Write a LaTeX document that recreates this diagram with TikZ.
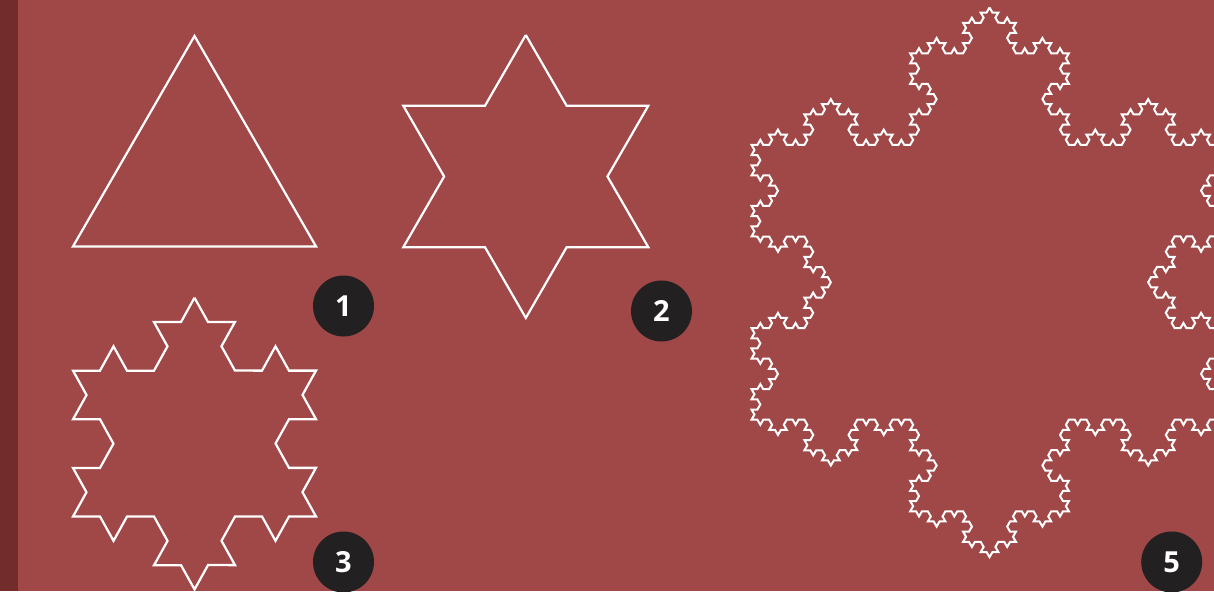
\documentclass[tikz,border=0pt]{standalone}
\usepackage{fontspec}
\setmainfont{Open Sans}
\usetikzlibrary{decorations.fractals}
\definecolor{bgc}{RGB}{160,72,72}
\definecolor{stripc}{RGB}{115,44,44}
\definecolor{badgec}{RGB}{35,32,33}
\begin{document}
\begin{tikzpicture}[x=1pt,y=1pt,
  koch/.style={draw=white, line width=2.2pt, line join=miter, decoration=Koch snowflake},
  badge/.style={circle, fill=badgec, minimum size=61pt, inner sep=0pt, text=white,
    font=\fontsize{29}{29}\selectfont\bfseries}]
\useasboundingbox (0,0) rectangle (1214,-591);
\clip (0,0) rectangle (1214,-591);
\fill[bgc] (0,0) rectangle (1214,-591);
\fill[stripc] (0,0) rectangle (18.3,-591);
% 1: triangle
\draw[koch] (194.5,-36) -- (316,-246.4) -- (73,-246.4) -- cycle;
% 2: star
\draw[koch] decorate{(525.8,-35) -- (648.3,-247.2) -- (403.3,-247.2) -- cycle};
% 3: second iteration
\begin{scope}[transform canvas={shift={(194.5,-297.7)}, yscale=1.04}]
\draw[koch] decorate{decorate{(0,0) -- (121.5,-210.4) -- (-121.5,-210.4) -- cycle}};
\end{scope}
% 5: fourth iteration
\draw[koch, line width=2pt] decorate{decorate{decorate{decorate{(989.5,-7.5) -- (1227.5,-419.7) -- (751.5,-419.7) -- cycle}}}};
% badges
\node[badge] (b1) at (343.5,-306) {1};
\node[badge] (b2) at (661.5,-311) {2};
\node[badge] (b3) at (343.5,-562) {3};
\node[badge] (b5) at (1171.7,-562) {5};
\end{tikzpicture}
\end{document}
